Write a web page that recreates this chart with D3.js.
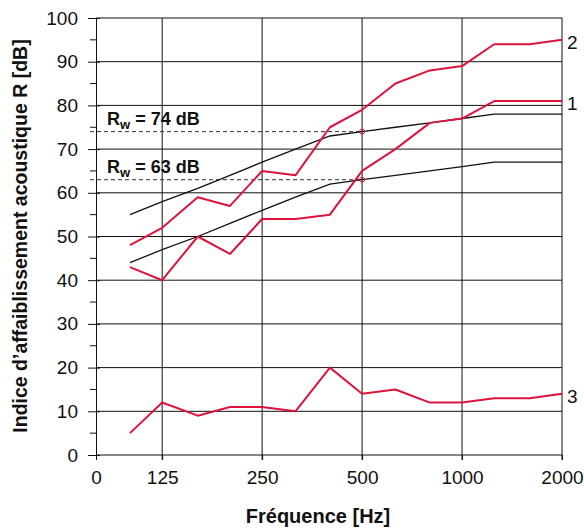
<!DOCTYPE html>
<html>
<head>
<meta charset="utf-8">
<script src="https://cdn.jsdelivr.net/npm/d3@7"></script>
<style>
  body { margin: 0; background: #fff; }
  svg { font-family: "Liberation Sans", Arial, sans-serif; }
</style>
</head>
<body>
<svg id="chart"></svg>
<script>
// frequences en tiers d'octave
const freqs = [100, 125, 160, 200, 250, 315, 400, 500, 630, 800, 1000, 1250, 1600, 2000];
const curve1 = [43, 40, 50, 46, 54, 54, 55, 65, 70, 76, 77, 81, 81, 81];
const curve2 = [48, 52, 59, 57, 65, 64, 75, 79, 85, 88, 89, 94, 94, 95];
const curve3 = [5, 12, 9, 11, 11, 10, 20, 14, 15, 12, 12, 13, 13, 14];
const ref74 = [55, 58, 61, 64, 67, 70, 73, 74, 75, 76, 77, 78, 78, 78];
const ref63 = [44, 47, 50, 53, 56, 59, 62, 63, 64, 65, 66, 67, 67, 67];
const rwValues = [74, 63];
const xTickVals = [79, 125, 250, 500, 1000, 2000];
const xTickLabels = ["0", "125", "250", "500", "1000", "2000"];
const yTicks = [0, 10, 20, 30, 40, 50, 60, 70, 80, 90, 100];
const yMinor = [5, 15, 25, 35, 45, 55, 65, 75, 85, 95];

const width = 584, height = 529;
const plotLeft = 96, plotRight = 562, plotTop = 18, plotBottom = 455;
const red = "#dc143c";

const svg = d3.select("#chart").attr("width", width).attr("height", height);

const x = d3.scaleLog().domain([79, 2000]).range([plotLeft, plotRight]);
const y = d3.scaleLinear().domain([0, 100]).range([plotBottom, plotTop]);

// grille horizontale
svg.append("g")
  .selectAll("line")
  .data(yTicks.filter(d => d > 0))
  .enter().append("line")
  .attr("x1", plotLeft).attr("x2", plotRight)
  .attr("y1", d => y(d)).attr("y2", d => y(d))
  .attr("stroke", "#111").attr("stroke-width", 1);

// grille verticale
svg.append("g")
  .selectAll("line")
  .data(xTickVals.slice(1))
  .enter().append("line")
  .attr("x1", d => x(d)).attr("x2", d => x(d))
  .attr("y1", plotTop).attr("y2", plotBottom + 5)
  .attr("stroke", "#111").attr("stroke-width", 1);

// axe Y
const axisY = d3.axisLeft(y).tickValues(yTicks).tickSize(8).tickPadding(10).tickFormat(d3.format("d"));
const gy = svg.append("g").attr("transform", `translate(${plotLeft},0)`).call(axisY);
gy.select(".domain").attr("stroke", "#111");
gy.selectAll(".tick line").attr("stroke", "#111").attr("x1", 4);
gy.selectAll("text").style("font-size", "19px").attr("fill", "#111");
gy.selectAll(".minor")
  .data(yMinor)
  .enter().append("line")
  .attr("class", "minor")
  .attr("x1", -6).attr("x2", 0)
  .attr("y1", d => y(d)).attr("y2", d => y(d))
  .attr("stroke", "#111");

// axe X
const axisX = d3.axisBottom(x).tickValues(xTickVals).tickSize(5).tickPadding(11)
  .tickFormat((d, i) => xTickLabels[i]);
const gx = svg.append("g").attr("transform", `translate(0,${plotBottom})`).call(axisX);
gx.select(".domain").attr("stroke", "#111").attr("d", `M${plotLeft},0H${plotRight}`);
gx.selectAll(".tick line").attr("stroke", "#111");
gx.selectAll("text").style("font-size", "19px").attr("fill", "#111");

// lignes Rw en pointillés
svg.append("g")
  .selectAll("line")
  .data(rwValues)
  .enter().append("line")
  .attr("x1", plotLeft - 6).attr("x2", x(500))
  .attr("y1", d => y(d)).attr("y2", d => y(d))
  .attr("stroke", "#333").attr("stroke-width", 1)
  .attr("stroke-dasharray", "4,3");

const line = d3.line().x((d, i) => x(freqs[i])).y(d => y(d));

// courbes de référence
[ref74, ref63].forEach(s => {
  svg.append("path").datum(s)
    .attr("d", line)
    .attr("fill", "none").attr("stroke", "#111").attr("stroke-width", 1.3);
});

// courbes mesurées
[curve1, curve2, curve3].forEach(s => {
  svg.append("path").datum(s)
    .attr("d", line)
    .attr("fill", "none").attr("stroke", red).attr("stroke-width", 2)
    .attr("stroke-linejoin", "round");
});

// petits cercles à 500 Hz
svg.append("g")
  .selectAll("circle")
  .data(rwValues)
  .enter().append("circle")
  .attr("cx", x(500)).attr("cy", d => y(d)).attr("r", 2.5)
  .attr("fill", "none").attr("stroke", red).attr("stroke-width", 1);

// étiquettes Rw
rwValues.forEach(v => {
  const t = svg.append("text")
    .attr("x", 107).attr("y", y(v) - 7)
    .style("font-size", "18px").style("font-weight", "bold").attr("fill", "#111");
  t.append("tspan").text("R");
  t.append("tspan").attr("dy", 4).style("font-size", "13px").text("w");
  t.append("tspan").attr("dy", -4).text(` = ${v} dB`);
});

// numéros des courbes
const labels = [["2", curve2], ["1", curve1], ["3", curve3]];
labels.forEach(([name, s]) => {
  svg.append("text")
    .attr("x", plotRight + 5).attr("y", y(s[s.length - 1]) + 9)
    .style("font-size", "19px").attr("fill", "#111")
    .text(name);
});

// titres des axes
svg.append("text")
  .attr("x", 318).attr("y", 523)
  .attr("text-anchor", "middle")
  .style("font-size", "20px").style("font-weight", "bold").attr("fill", "#111")
  .text("Fréquence [Hz]");

svg.append("text")
  .attr("transform", `translate(27,236) rotate(-90)`)
  .attr("text-anchor", "middle")
  .style("font-size", "19.5px").style("font-weight", "bold").attr("fill", "#111")
  .text("Indice d’affaiblissement acoustique R [dB]");
</script>
</body>
</html>
